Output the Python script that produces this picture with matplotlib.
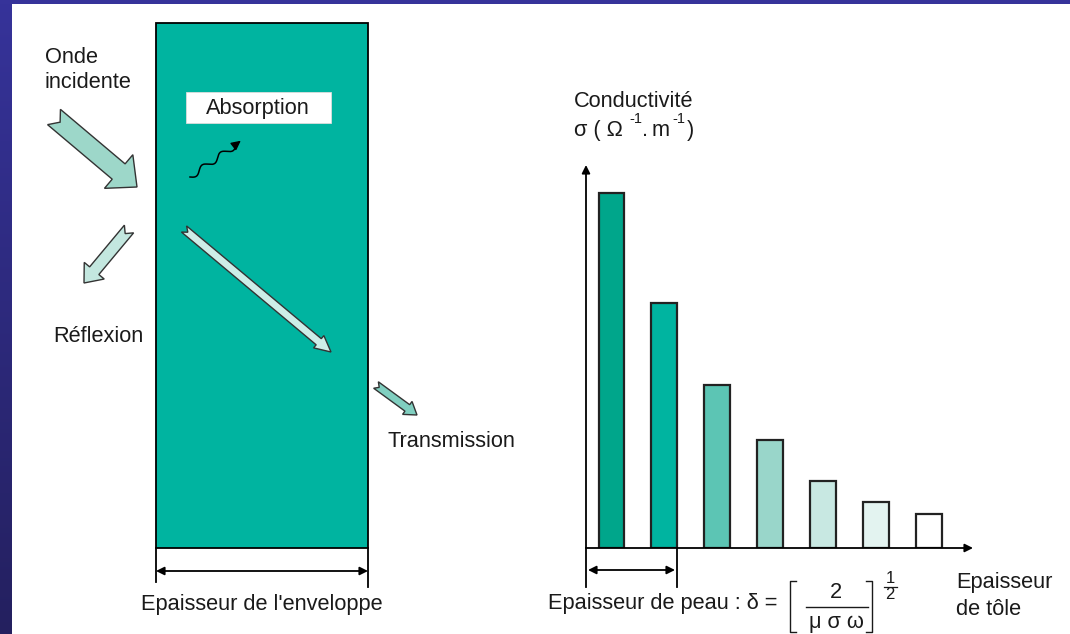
import numpy as np
import matplotlib
matplotlib.use('Agg')
import matplotlib.pyplot as plt
from matplotlib.patches import Rectangle, Polygon

plt.rcParams['font.family'] = ['Liberation Sans', 'DejaVu Sans']

# conductivity bars (relative height)
bar_heights = [355, 245, 163, 108, 67, 46, 34]
bar_colors = ['#00a68b', '#00b4a0', '#5cc5b4', '#99d6ca', '#c8e8e2', '#e3f3f0', '#ffffff']
bar_pos = np.arange(len(bar_heights))

TEXT = '#1a1a1a'
FS = 15.7

fig = plt.figure(figsize=(10.7, 6.34), dpi=100)
fig.patch.set_facecolor('white')

# full-figure axes in pixel units for the diagram part
ax = fig.add_axes([0, 0, 1, 1])
ax.set_xlim(0, 1070)
ax.set_ylim(634, 0)
ax.axis('off')

# blue slide frame
grad = np.linspace(0, 1, 256).reshape(-1, 1)
cmap = matplotlib.colors.LinearSegmentedColormap.from_list('frame', ['#36339a', '#24205f'])
ax.imshow(grad, extent=(0, 12, 634, 0), cmap=cmap, aspect='auto', zorder=5)
ax.add_patch(Rectangle((0, 0), 1070, 4, fc='#36339a', ec='none', zorder=5))


def notched_arrow(tail, tip, w, hw, hl, notch, fc):
    tx, ty = tail
    px, py = tip
    dx, dy = px - tx, py - ty
    L = np.hypot(dx, dy)
    ux, uy = dx / L, dy / L
    nx, ny = -uy, ux
    local = [(0, w), (L - hl, w), (L - hl, hw), (L, 0),
             (L - hl, -hw), (L - hl, -w), (0, -w), (notch, 0)]
    pts = [(tx + a * ux + b * nx, ty + a * uy + b * ny) for a, b in local]
    ax.add_patch(Polygon(pts, closed=True, fc=fc, ec='#333333', lw=1.0, zorder=4))


def label(x, y, s, size=FS, ha='left'):
    ax.text(x, y, s, fontsize=size, color=TEXT, ha=ha, va='baseline', zorder=6)


# envelope block
ax.add_patch(Rectangle((156, 23), 212, 525, fc='#00b4a0', ec='black', lw=1.3, zorder=2))

# absorption label box
ax.add_patch(Rectangle((186, 92), 145, 31, fc='white', ec='#dddddd', lw=0.6, zorder=3))
label(258, 114, 'Absorption', ha='center')

# wavy absorption arrow
t = np.linspace(0, 1, 200)
sx, sy, ex, ey = 190, 177, 236, 145
ln = np.hypot(ex - sx, ey - sy)
ux, uy = (ex - sx) / ln, (ey - sy) / ln
amp = 3.0 * np.sin(2 * np.pi * 2.5 * t)
ax.plot(sx + t * (ex - sx) - amp * uy, sy + t * (ey - sy) + amp * ux, color='black', lw=1.1, zorder=4)
ax.annotate('', xy=(243, 139), xytext=(234, 146),
            arrowprops=dict(arrowstyle='-|>', color='black', mutation_scale=14, lw=1.0), zorder=4)

# incident / reflected / transmitted arrows
notched_arrow((54, 117), (137, 187), 10, 22, 24, 8, '#9dd7c9')
notched_arrow((129, 229), (84, 283), 6, 13, 16, 6, '#c3e7df')
notched_arrow((184, 229), (331, 352), 4, 8, 16, 5, '#cdeee8')
notched_arrow((376, 385), (417, 415), 4, 8, 12, 4, '#80cfc0')

label(45, 63, 'Onde')
label(45, 88, 'incidente')
label(53, 342, 'Réflexion')
label(387, 447, 'Transmission')

# envelope thickness dimension
ax.plot([156, 156], [548, 582], color='black', lw=1.3)
ax.plot([368, 368], [548, 587], color='black', lw=1.3)
ax.annotate('', xy=(156, 571), xytext=(368, 571),
            arrowprops=dict(arrowstyle='<|-|>', color='black', mutation_scale=12, lw=1.3,
                            shrinkA=0, shrinkB=0))
label(262, 610, "Epaisseur de l'enveloppe", ha='center')

# conductivity bar chart
ax2 = fig.add_axes([586 / 1070, (634 - 548) / 634, (973 - 586) / 1070, (548 - 165) / 634])
ax2.patch.set_alpha(0)
ax2.bar(bar_pos, bar_heights, width=0.49, color=bar_colors, edgecolor='#222222', linewidth=1.6, zorder=3)
ax2.set_xlim(-0.482, 6.827)
ax2.set_ylim(0, 383)
for s in ax2.spines.values():
    s.set_visible(False)
ax2.set_xticks([])
ax2.set_yticks([])
ax2.annotate('', xy=(0, 1), xytext=(0, 0), xycoords='axes fraction',
             arrowprops=dict(arrowstyle='-|>', color='black', mutation_scale=12, lw=1.3,
                             shrinkA=0, shrinkB=0))
ax2.annotate('', xy=(1, 0), xytext=(0, 0), xycoords='axes fraction',
             arrowprops=dict(arrowstyle='-|>', color='black', mutation_scale=12, lw=1.3,
                             shrinkA=0, shrinkB=0))

label(574, 107, 'Conductivité')
label(574, 136, 'σ ( Ω')
label(629, 123, '-1', size=10.5)
label(642, 136, '.')
label(652, 136, 'm')
label(672, 123, '-1', size=10.5)
label(687, 136, ')')

# skin depth dimension
ax.plot([586, 586], [548, 587], color='black', lw=1.3)
ax.plot([677, 677], [548, 587], color='black', lw=1.3)
ax.annotate('', xy=(588, 570), xytext=(675, 570),
            arrowprops=dict(arrowstyle='<|-|>', color='black', mutation_scale=12, lw=1.3,
                            shrinkA=0, shrinkB=0))

label(548, 609, 'Epaisseur de peau : δ = ')
# brackets and fraction
ax.plot([796, 790, 790, 796], [581, 581, 632, 632], color=TEXT, lw=1.0)
ax.plot([866, 872, 872, 866], [581, 581, 632, 632], color=TEXT, lw=1.0)
label(836, 598, '2', ha='center')
ax.plot([806, 868], [607, 607], color=TEXT, lw=1.0)
label(836, 628, 'μ σ ω', ha='center')
label(890, 583, '1', size=12, ha='center')
ax.plot([884, 897], [587, 587], color=TEXT, lw=0.9)
label(890, 599, '2', size=12, ha='center')

label(956, 588, 'Epaisseur')
label(956, 615, 'de tôle')

fig.savefig('out.png', dpi=100)
